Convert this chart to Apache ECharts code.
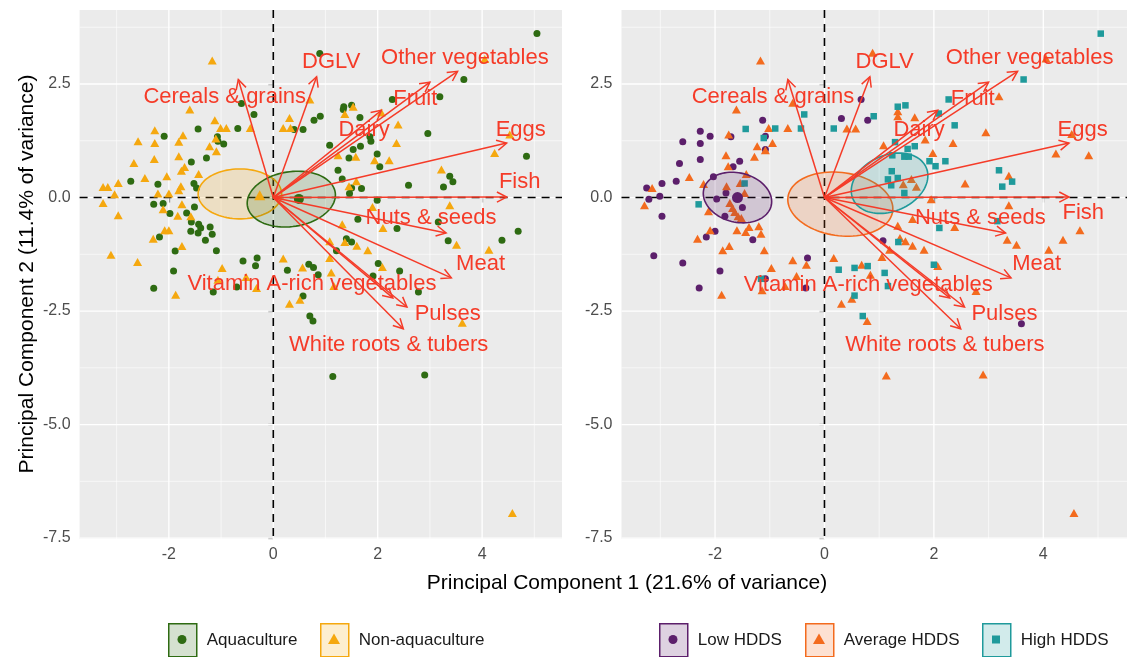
<!DOCTYPE html>
<html><head><meta charset="utf-8">
<script src="https://cdn.jsdelivr.net/npm/echarts@6/dist/echarts.min.js"></script>
<style>html,body{margin:0;padding:0;background:#fff}#c{width:1127px;height:657px}</style>
</head><body><div id="c"></div>
<script>
const FONT = "'Liberation Sans', Arial, Helvetica, sans-serif";

// ---- axes ----
const xRange = [-3.71, 5.53];
const yRange = [-7.52, 4.13];
const xTicks = [-2, 0, 2, 4];
const xMinor = [-3, -1, 1, 3, 5];
const yTicks = [-7.5, -5, -2.5, 0, 2.5];
const yMinor = [-6.25, -3.75, -1.25, 1.25, 3.75];
const xTitle = 'Principal Component 1 (21.6% of variance)';
const yTitle = 'Principal Component 2 (11.4% of variance)';

// ---- loadings (arrows) ----
const loadingNames = ['Cereals & grains','DGLV','Other vegetables','Fruit','Dairy','Eggs','Fish','Nuts & seeds','Meat','Vitamin A-rich vegetables','Pulses','White roots & tubers'];
const loadingX = [-0.67, 0.83, 3.53, 3.00, 2.07, 4.47, 4.47, 3.31, 3.41, 2.29, 2.56, 2.49];
const loadingY = [2.60, 2.66, 2.78, 2.54, 1.92, 1.20, 0.01, -0.78, -1.77, -2.21, -2.41, -2.89];
const labelXLeft  = [-0.93, 1.11, 3.67, 2.72, 1.74, 4.74, 4.72, 3.02, 3.97, 0.74, 3.34, 2.21];
const labelYLeft  = [2.22, 2.99, 3.08, 2.18, 1.48, 1.48, 0.34, -0.46, -1.46, -1.90, -2.56, -3.25];
const labelXRight = [-0.94, 1.10, 3.75, 2.71, 1.73, 4.72, 4.73, 2.85, 3.88, 0.80, 3.29, 2.20];
const labelYRight = [2.22, 2.99, 3.08, 2.18, 1.48, 1.48, -0.34, -0.44, -1.47, -1.92, -2.56, -3.25];

// ---- left panel groups ----
const aquaculture = [[-0.61,2.07],[-0.37,1.83],[-1.44,1.51],[-0.68,1.52],[-2.09,1.35],[-1.07,1.34],[-1.06,1.24],[-0.95,1.18],[-1.28,0.87],[-1.57,0.78],[-2.73,0.36],[-2.21,0.29],[-1.52,0.31],[-1.47,0.21],[0.40,1.50],[0.57,1.50],[0.78,1.70],
[-2.29,-0.15],[-2.11,-0.13],[-1.98,-0.35],[-1.66,-0.34],[-1.51,-0.21],[-1.57,-0.54],[-1.43,-0.59],[-1.39,-0.67],[-1.58,-0.74],[-1.21,-0.65],[-1.44,-0.78],[-1.17,-0.81],[-1.30,-0.94],[-2.18,-0.87],[-1.88,-1.18],[-1.09,-1.17],[-1.91,-1.62],[-2.29,-2.00],[-0.58,-1.40],[-0.31,-1.33],[-0.34,-1.50],[-1.15,-2.08],[-0.70,-1.97],[0.27,-1.60],[0.68,-1.47],[0.77,-1.54],[0.86,-1.70],[0.57,-2.17],[0.70,-2.61],[0.76,-2.72],
[1.14,-3.94],[2.90,-3.91],[2.78,-2.08],
[5.05,3.61],[0.89,3.17],[3.65,2.60],[3.19,2.22],[2.28,2.16],[1.35,2.00],[1.34,1.94],[1.50,2.03],[1.66,1.76],[0.90,1.79],[2.96,1.41],[4.85,0.91],[1.08,1.15],[1.85,1.34],[1.87,1.24],[1.67,1.13],[1.53,1.06],[1.45,0.87],[1.99,0.96],[2.04,0.68],[1.24,0.60],[1.32,0.41],[3.38,0.47],[3.44,0.35],[2.59,0.27],[3.26,0.23],[1.69,0.20],[1.50,0.21],[1.46,0.09],
[1.99,-0.06],[1.62,-0.48],[2.37,-0.68],[3.16,-0.54],[3.35,-0.95],[4.38,-0.94],[4.69,-0.74],[1.40,-0.91],[1.50,-0.98],[1.21,-1.17],[2.01,-1.45],[2.42,-1.62],[1.91,-1.73]];
const nonAquaculture = [[-1.17,3.02],[-1.60,1.94],[-1.12,1.70],[-1.01,1.53],[-0.90,1.53],[-2.27,1.48],[-1.73,1.37],[-2.59,1.24],[-2.27,1.20],[-1.81,1.23],[-1.10,1.30],[-1.22,1.13],[-1.09,1.02],[-1.81,0.91],[-2.28,0.85],[-2.67,0.76],[-1.70,0.67],[-1.76,0.59],[-1.43,0.52],[-2.46,0.43],[-2.04,0.47],[-2.97,0.32],[-3.26,0.23],[-3.17,0.23],[-1.77,0.25],[-1.81,0.16],[-2.21,0.09],[-2.00,0.09],[-3.04,0.07],[-0.44,1.53],[0.31,1.75],[0.19,1.53],[0.33,1.53],
[-3.26,-0.12],[-2.97,-0.39],[-1.75,-0.15],[-2.11,-0.26],[-1.83,-0.40],[-1.58,-0.41],[-2.08,-0.72],[-2.00,-0.72],[-2.30,-0.91],[-1.75,-1.07],[-3.11,-1.26],[-2.60,-1.42],[-0.98,-1.55],[-1.06,-1.81],[-0.52,-1.75],[-0.32,-1.99],[-1.87,-2.14],[0.19,-1.34],[0.56,-1.54],[0.31,-2.34],[0.51,-2.25],[1.16,-1.95],[3.62,-2.76],[4.58,-6.95],
[4.05,3.05],[0.70,2.16],[1.37,1.84],[1.53,2.00],[2.07,1.87],[2.39,1.61],[2.36,1.20],[1.24,0.93],[1.58,0.90],[1.94,0.82],[2.22,0.82],[3.22,0.62],[4.53,1.39],[4.24,0.98],[1.45,0.25],[1.59,0.36],
[1.90,-0.21],[2.10,-0.67],[1.32,-0.59],[3.38,-0.17],[1.08,-0.96],[1.37,-0.98],[1.60,-1.06],[1.81,-1.16],[3.51,-1.04],[4.13,-1.15],[1.08,-1.33],[1.11,-1.65],[2.09,-1.53]];
const aquaMean = [[0.49, -0.03]];
const nonAquaMean = [[-0.26, 0.05]];

// ---- right panel groups ----
const lowHDDS = [[-1.13,1.70],[-2.27,1.46],[-2.09,1.35],[-1.71,1.34],[-2.59,1.23],[-2.27,1.19],[-1.08,1.35],[-1.08,1.06],[-2.27,0.84],[-2.65,0.75],[-1.55,0.80],[-1.67,0.68],[-2.71,0.36],[-2.97,0.31],[-2.03,0.46],[-3.25,0.21],[-3.21,-0.04],[-3.01,0.03],[-1.80,0.10],[-1.97,-0.03],[-1.82,-0.41],[-1.50,-0.22],[-2.97,-0.41],[-2.00,-0.74],[-2.16,-0.87],[-1.31,-0.93],[-3.12,-1.28],[-2.59,-1.44],[-1.91,-1.62],[-2.29,-1.99],[-0.31,-1.33],[-1.08,-1.79],[-0.34,-1.99],
[0.67,2.16],[0.31,1.74],[0.79,1.70],[1.07,-0.95],[3.60,-2.78]];
const averageHDDS = [[-1.17,3.02],[-1.61,1.94],[-0.58,2.09],[-1.02,1.53],[-0.67,1.53],[-1.75,1.39],[-1.23,1.13],[-0.95,1.20],[-1.08,1.04],[-1.80,0.93],[-1.28,0.90],[-2.47,0.45],[-3.15,0.21],[-3.29,-0.17],[-2.21,0.30],[-1.79,0.25],[-1.43,0.52],[-1.76,0.69],[-1.73,-0.12],[-1.68,-0.23],[-1.64,-0.32],[-1.58,-0.41],[-1.52,-0.45],[-1.46,0.10],[-1.54,0.32],[-2.12,-0.30],[-2.09,-0.72],[-1.60,-0.72],[-1.44,-0.76],[-1.38,-0.65],[-1.20,-0.63],[-1.16,-0.80],[-2.32,-0.91],[-1.86,-1.16],[-1.74,-1.07],[-1.10,-1.16],[-0.97,-1.55],[-0.58,-1.38],[-0.33,-1.48],[-0.51,-1.73],[-1.14,-2.04],[-1.88,-2.14],[-0.72,-1.95],
[0.88,3.19],[0.41,1.52],[0.57,1.52],[1.34,1.90],[1.34,1.79],[1.65,1.77],[1.84,1.28],[2.35,1.20],[1.08,1.15],[1.98,0.98],[2.57,0.31],[1.44,0.29],[1.59,0.41],[1.68,0.24],[1.95,-0.04],[1.61,-0.47],[2.38,-0.65],[1.34,-0.62],[1.38,-0.89],[1.48,-0.96],[1.61,-1.06],[1.82,-1.15],[1.19,-1.15],[0.17,-1.33],[1.05,-1.31],[0.68,-1.48],[0.84,-1.70],[2.07,-1.51],[0.31,-2.34],[0.50,-2.23],[0.78,-2.72],[2.95,1.44],
[3.19,2.23],[4.05,3.06],[4.52,1.40],[4.23,0.97],[4.83,0.93],[3.37,0.48],[3.37,-0.17],[4.67,-0.72],[3.34,-0.93],[3.51,-1.04],[4.36,-0.93],[4.10,-1.15],[2.77,-2.06],[1.13,-3.92],[2.90,-3.90],[4.56,-6.95]];
const highHDDS = [[-0.37,1.83],[-1.44,1.51],[-0.90,1.52],[-0.43,1.52],[-2.30,-0.15],[-1.46,0.31],[-1.11,1.31],[-1.16,-1.79],
[0.17,1.52],[0.90,1.79],[1.34,2.00],[1.48,2.03],[2.27,2.16],[2.09,1.85],[2.38,1.59],[1.29,1.22],[1.52,1.07],[1.65,1.13],[1.24,0.93],[1.46,0.90],[1.54,0.90],[1.92,0.80],[2.03,0.69],[2.21,0.80],[1.23,0.58],[1.16,0.40],[1.34,0.43],[1.22,0.27],[1.46,0.10],[2.10,-0.67],[1.35,-0.98],[0.26,-1.59],[0.55,-1.55],[0.79,-1.51],[1.10,-1.66],[1.16,-1.95],[2.00,-1.48],[0.55,-2.16],[0.70,-2.61],
[5.05,3.61],[3.64,2.60],[3.19,0.60],[3.43,0.35],[3.25,0.24],[3.16,-0.52]];
const lowMean = [[-1.59, 0.0]];

// ---- ellipses: [cx, cy, halfWidth, yShiftAtRightEdge, vertical semi-axis] ----
const ellNonAqua = [-0.64, 0.08, 0.80, 0.0, 0.55];
const ellAqua = [0.345, -0.035, 0.845, 0.09, 0.608];
const ellLow = [-1.59, 0.0, 0.625, -0.09, 0.55];
const ellAvg = [0.29, -0.145, 0.96, -0.1, 0.70];
const ellHigh = [1.19, 0.315, 0.70, 0.165, 0.644];

// ---- colours ----
const cAqua = '#2E6B12', cNonAqua = '#F5A80F', cLow = '#5C1F6B', cAvg = '#F36B1E', cHigh = '#1F9A9B';
const cArrow = '#F53B28';

function rgba(hex, a) {
  const n = parseInt(hex.slice(1), 16);
  return `rgba(${(n>>16)&255},${(n>>8)&255},${n&255},${a})`;
}

function gridLineSeries(gi) {
  const data = [];
  xMinor.forEach(v => data.push([v, 0, 0]));
  yMinor.forEach(v => data.push([v, 1, 0]));
  xTicks.forEach(v => data.push([v, 0, 1]));
  yTicks.forEach(v => data.push([v, 1, 1]));
  return {
    type: 'custom', xAxisIndex: gi, yAxisIndex: gi, silent: true, z: 1, data,
    renderItem(params, api) {
      const v = api.value(0), o = api.value(1), major = api.value(2);
      const cs = params.coordSys;
      const st = { stroke: '#FFFFFF', lineWidth: major ? 1.3 : 0.6 };
      if (o === 0) {
        const px = api.coord([v, 0])[0];
        return { type: 'line', shape: { x1: px, y1: cs.y, x2: px, y2: cs.y + cs.height }, style: st };
      }
      const py = api.coord([0, v])[1];
      return { type: 'line', shape: { x1: cs.x, y1: py, x2: cs.x + cs.width, y2: py }, style: st };
    }
  };
}

function refLineSeries(gi) {
  return {
    type: 'custom', xAxisIndex: gi, yAxisIndex: gi, silent: true, z: 2, data: [[0, 0], [0, 1]],
    renderItem(params, api) {
      const o = api.value(1);
      const cs = params.coordSys;
      const o0 = api.coord([0, 0]);
      const st = { stroke: '#000000', lineWidth: 1.6, lineDash: [8, 6] };
      if (o === 0) return { type: 'line', shape: { x1: o0[0], y1: cs.y, x2: o0[0], y2: cs.y + cs.height }, style: st };
      return { type: 'line', shape: { x1: cs.x, y1: o0[1], x2: cs.x + cs.width, y2: o0[1] }, style: st };
    }
  };
}

function scatter(gi, name, data, symbol, size, color) {
  return { type: 'scatter', name, xAxisIndex: gi, yAxisIndex: gi, data, symbol, symbolSize: size,
    itemStyle: { color, opacity: 1 }, z: 3, silent: true };
}

function ellipseSeries(gi, name, e, color) {
  return {
    type: 'custom', name, xAxisIndex: gi, yAxisIndex: gi, silent: true, z: 4, data: [e],
    renderItem(params, api) {
      const cx = api.value(0), cy = api.value(1), hx = api.value(2), dy = api.value(3), vy = api.value(4);
      const pts = [];
      for (let i = 0; i < 90; i++) {
        const t = 2 * Math.PI * i / 90;
        pts.push(api.coord([cx + hx * Math.cos(t), cy + dy * Math.cos(t) + vy * Math.sin(t)]));
      }
      return { type: 'polygon', shape: { points: pts }, style: { fill: rgba(color, 0.18), stroke: color, lineWidth: 1.6 } };
    }
  };
}

function arrowSeries(gi) {
  return {
    type: 'custom', xAxisIndex: gi, yAxisIndex: gi, silent: true, z: 5,
    data: loadingX.map((x, i) => [x, loadingY[i]]),
    renderItem(params, api) {
      const p0 = api.coord([0, 0]);
      const p1 = api.coord([api.value(0), api.value(1)]);
      const a = Math.atan2(p1[1] - p0[1], p1[0] - p0[0]);
      const L = 11, h = Math.PI / 6.5;
      const l = [p1[0] - L * Math.cos(a - h), p1[1] - L * Math.sin(a - h)];
      const r = [p1[0] - L * Math.cos(a + h), p1[1] - L * Math.sin(a + h)];
      const st = { stroke: cArrow, lineWidth: 1.5, fill: null };
      return { type: 'group', children: [
        { type: 'line', shape: { x1: p0[0], y1: p0[1], x2: p1[0], y2: p1[1] }, style: st },
        { type: 'polyline', shape: { points: [l, p1, r] }, style: st }
      ] };
    }
  };
}

function labelSeries(gi, lx, ly) {
  return {
    type: 'custom', xAxisIndex: gi, yAxisIndex: gi, silent: true, z: 6,
    data: lx.map((x, i) => [x, ly[i], i]),
    renderItem(params, api) {
      const p = api.coord([api.value(0), api.value(1)]);
      return { type: 'text', x: p[0], y: p[1], style: {
        text: loadingNames[api.value(2)], fill: cArrow, fontSize: 22, fontFamily: FONT,
        align: 'center', verticalAlign: 'middle' } };
    }
  };
}

function xAxis(gi) {
  return { type: 'value', gridIndex: gi, min: xRange[0], max: xRange[1],
    axisLine: { show: false }, splitLine: { show: false },
    axisTick: { show: true, customValues: xTicks, length: 5, lineStyle: { color: '#333333', width: 1.2 } },
    axisLabel: { customValues: xTicks, color: '#4D4D4D', fontSize: 16, fontFamily: FONT, margin: 8,
      formatter: v => String(v) } };
}
function yAxis(gi) {
  return { type: 'value', gridIndex: gi, min: yRange[0], max: yRange[1],
    axisLine: { show: false }, splitLine: { show: false },
    axisTick: { show: true, customValues: yTicks, length: 5, lineStyle: { color: '#333333', width: 1.2 } },
    axisLabel: { customValues: yTicks, color: '#4D4D4D', fontSize: 16, fontFamily: FONT, margin: 9,
      formatter: v => v.toFixed(1) } };
}

const legendItems = [
  { name: 'Aquaculture', color: cAqua, left: 168, shape: 'circle' },
  { name: 'Non-aquaculture', color: cNonAqua, left: 320, shape: 'triangle' },
  { name: 'Low HDDS', color: cLow, left: 659, shape: 'circle' },
  { name: 'Average HDDS', color: cAvg, left: 805, shape: 'triangle' },
  { name: 'High HDDS', color: cHigh, left: 982, shape: 'rect' }
];
const LEG_TOP = 623, LEG_W = 28, LEG_H = 33;

const legends = legendItems.map(it => ({
  data: [{ name: it.name, icon: 'rect', itemStyle: { color: rgba(it.color, 0.2), borderColor: it.color, borderWidth: 1.5 } }],
  left: it.left, top: LEG_TOP, itemWidth: LEG_W, itemHeight: LEG_H, padding: 0, selectedMode: false,
  textStyle: { fontSize: 17, color: '#1A1A1A', fontFamily: FONT, padding: [0, 0, 0, 5] }
}));

const graphics = [];
legendItems.forEach(it => {
  const cx = it.left + LEG_W / 2, cy = LEG_TOP + LEG_H / 2;
  if (it.shape === 'circle') graphics.push({ type: 'circle', z: 100, shape: { cx, cy, r: 4.5 }, style: { fill: it.color } });
  else if (it.shape === 'triangle') graphics.push({ type: 'polygon', z: 100, shape: { points: [[cx, cy - 6], [cx + 6, cy + 4.5], [cx - 6, cy + 4.5]] }, style: { fill: it.color } });
  else graphics.push({ type: 'rect', z: 100, shape: { x: cx - 4, y: cy - 4, width: 8, height: 8 }, style: { fill: it.color } });
});
graphics.push({ type: 'text', z: 100, x: 627, y: 583, style: { text: xTitle, fontSize: 21, fontFamily: FONT, fill: '#000', align: 'center', verticalAlign: 'middle' } });
graphics.push({ type: 'text', z: 100, x: 27, y: 274, rotation: Math.PI / 2, style: { text: yTitle, fontSize: 21, fontFamily: FONT, fill: '#000', align: 'center', verticalAlign: 'middle' } });

const option = {
  animation: false,
  backgroundColor: '#FFFFFF',
  grid: [
    { left: 79.6, top: 10, width: 482.4, height: 529, show: true, backgroundColor: '#EBEBEB', borderWidth: 0 },
    { left: 621.5, top: 10, width: 510, height: 529, show: true, backgroundColor: '#EBEBEB', borderWidth: 0 }
  ],
  xAxis: [xAxis(0), xAxis(1)],
  yAxis: [yAxis(0), yAxis(1)],
  legend: legends,
  graphic: graphics,
  series: [
    gridLineSeries(0), refLineSeries(0),
    scatter(0, 'Aquaculture', aquaculture, 'circle', 7, cAqua),
    scatter(0, 'Non-aquaculture', nonAquaculture, 'triangle', [9, 8], cNonAqua),
    ellipseSeries(0, 'Non-aquaculture ellipse', ellNonAqua, cNonAqua),
    ellipseSeries(0, 'Aquaculture ellipse', ellAqua, cAqua),
    Object.assign(scatter(0, 'Aquaculture mean', aquaMean, 'circle', 10, cAqua), { z: 4.5 }),
    Object.assign(scatter(0, 'Non-aquaculture mean', nonAquaMean, 'triangle', [11, 10], cNonAqua), { z: 4.5 }),
    arrowSeries(0), labelSeries(0, labelXLeft, labelYLeft),

    gridLineSeries(1), refLineSeries(1),
    scatter(1, 'Low HDDS', lowHDDS, 'circle', 7, cLow),
    scatter(1, 'Average HDDS', averageHDDS, 'triangle', [9, 8], cAvg),
    scatter(1, 'High HDDS', highHDDS, 'rect', 6.5, cHigh),
    ellipseSeries(1, 'Low HDDS ellipse', ellLow, cLow),
    ellipseSeries(1, 'Average HDDS ellipse', ellAvg, cAvg),
    ellipseSeries(1, 'High HDDS ellipse', ellHigh, cHigh),
    Object.assign(scatter(1, 'Low HDDS mean', lowMean, 'circle', 11, cLow), { z: 4.5 }),
    arrowSeries(1), labelSeries(1, labelXRight, labelYRight)
  ]
};

const chart = echarts.init(document.getElementById('c'), null, { renderer: 'canvas' });
chart.setOption(option);
</script>
</body></html>
